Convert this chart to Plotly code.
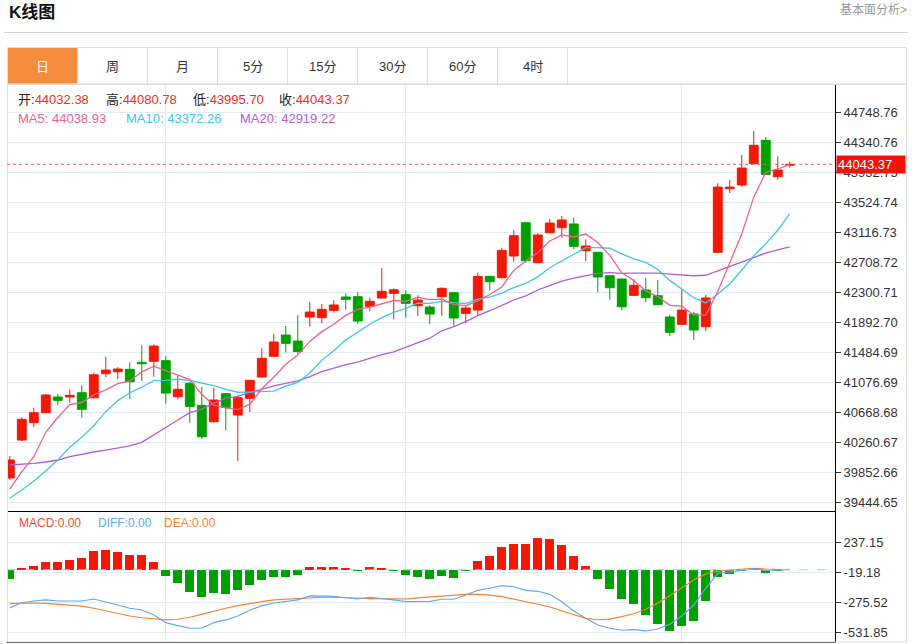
import plotly.graph_objects as go

# ---------------- data ----------------
opens = [39772, 40289, 40525, 40661, 40875, 40875, 40933, 40865, 41192, 41219,
         41252, 41347, 41361, 41369, 40879, 41061, 40762, 40538, 40920, 40630,
         40857, 41147, 41429, 41719, 41637, 41964, 41955, 42055, 42237, 42241,
         42110, 42223, 42287, 42268, 42118, 42100, 42241, 42295, 42015, 42059,
         42518, 42499, 42795, 43248, 42704, 43112, 43180, 43231, 42867, 42845,
         42527, 42482, 42260, 42332, 42254, 41964, 41865, 42005, 41832, 42845,
         43711, 43762, 44052, 44370, 43875, 44032.38]
highs = [40072, 40598, 40729, 40916, 40916, 40980, 41034, 41206, 41424, 41283,
         41347, 41583, 41592, 41433, 41165, 41083, 41011, 41001, 40930, 40898,
         41110, 41538, 41737, 41842, 41989, 42168, 42141, 42192, 42287, 42301,
         42227, 42631, 42355, 42328, 42260, 42123, 42369, 42300, 42118, 42567,
         42525, 42908, 43145, 43255, 43108, 43299, 43340, 43316, 43022, 42850,
         42530, 42487, 42478, 42495, 42468, 41995, 42341, 42036, 42268, 43785,
         43830, 44170, 44497, 44415, 44153, 44080.78]
lows = [39745, 40276, 40462, 40657, 40762, 40797, 40593, 40852, 41147, 41116,
        40847, 41093, 41151, 40783, 40843, 40525, 40303, 40525, 40421, 40003,
        40670, 41140, 41420, 41478, 41464, 41832, 41878, 42023, 42064, 41869,
        42042, 42215, 41933, 41955, 41978, 41865, 41982, 41846, 41878, 41991,
        42322, 42490, 42717, 42709, 42700, 43105, 43044, 42886, 42727, 42301,
        42200, 42055, 42255, 42168, 42130, 41705, 41860, 41651, 41773, 42840,
        43653, 43739, 44048, 43905, 43834, 43995.70]
closes = [40017, 40571, 40661, 40902, 40830, 40898, 40707, 41178, 41242, 41256,
          41083, 41328, 41569, 40929, 40980, 40748, 40334, 40834, 40734, 40865,
          41102, 41402, 41624, 41606, 41494, 42032, 42069, 42128, 42205, 41910,
          42178, 42314, 42336, 42151, 42196, 42005, 42355, 41951, 42087, 42516,
          42445, 42872, 43071, 42731, 43081, 43244, 43285, 42927, 42931, 42509,
          42363, 42104, 42396, 42227, 42132, 41756, 42059, 41787, 42223, 43734,
          43734, 43993, 44302, 43907, 43966, 44043.37]
ma5 = [39620, 39858, 40062, 40395, 40596, 40772, 40800, 40903, 40971, 41056,
       41093, 41217, 41296, 41233, 41178, 41111, 40912, 40765, 40726, 40703,
       40774, 40987, 41145, 41320, 41446, 41632, 41765, 41866, 41986, 42069,
       42098, 42147, 42189, 42178, 42235, 42200, 42209, 42132, 42119, 42183,
       42271, 42374, 42598, 42727, 42840, 43000, 43082, 43054, 43094, 42979,
       42803, 42567, 42461, 42320, 42244, 42123, 42114, 41992, 41991, 42312,
       42707, 43094, 43597, 43934, 43980, 44038.93]
ma10 = [39500, 39608, 39731, 39867, 40017, 40190, 40326, 40484, 40675, 40826,
        40933, 41009, 41099, 41102, 41117, 41102, 41065, 41030, 40980, 40940,
        40942, 40950, 40955, 41023, 41074, 41203, 41376, 41506, 41653, 41757,
        41865, 41956, 42027, 42082, 42152, 42149, 42178, 42160, 42148, 42209,
        42236, 42291, 42365, 42423, 42511, 42635, 42728, 42826, 42910, 42910,
        42901, 42825, 42757, 42707, 42612, 42463, 42340, 42226, 42156, 42278,
        42415, 42604, 42795, 42963, 43146, 43372.26]
ma20 = [39949, 39958, 39972, 39990, 40017, 40062, 40099, 40126, 40153, 40180,
        40208, 40258, 40361, 40470, 40562, 40661, 40711, 40789, 40857, 40883,
        40938, 40979, 41027, 41062, 41096, 41152, 41220, 41268, 41316, 41349,
        41404, 41453, 41491, 41552, 41613, 41676, 41777, 41833, 41901, 41983,
        42050, 42124, 42196, 42252, 42332, 42392, 42453, 42493, 42529, 42559,
        42569, 42558, 42561, 42565, 42562, 42549, 42534, 42526, 42533, 42594,
        42658, 42714, 42776, 42835, 42879, 42919.22]
macd = [-75, 13, 36, 64, 64, 81, 98, 161, 167, 150,
        126, 124, 70, -56, -115, -186, -232, -195, -209, -175,
        -132, -90, -64, -64, -41, 24, 27, 24, 15, -10,
        21, 15, -7, -47, -62, -75, -53, -70, -7, 75,
        115, 192, 224, 218, 269, 267, 212, 118, 36, -81,
        -167, -249, -295, -389, -463, -520, -480, -434, -267, -58,
        -36, -7, 19, -24, -10, 0]
diff = [-326, -282, -267, -258, -267, -267, -267, -250, -273, -301,
        -329, -344, -387, -452, -478, -500, -500, -452, -429, -395,
        -346, -307, -284, -273, -258, -224, -224, -227, -239, -250,
        -235, -244, -258, -273, -273, -270, -252, -252, -216, -176,
        -158, -136, -145, -176, -184, -210, -273, -352, -415, -472,
        -500, -517, -512, -523, -506, -466, -395, -301, -158, -30,
        -19, -2, 9, -5, -2, 4]
dea = [-290, -284, -284, -287, -293, -301, -310, -329, -352, -372,
       -395, -410, -421, -429, -423, -406, -381, -352, -329, -307,
       -287, -273, -258, -252, -244, -235, -235, -235, -241, -247,
       -247, -247, -250, -250, -241, -233, -224, -213, -210, -210,
       -216, -230, -250, -273, -295, -318, -352, -387, -415, -427,
       -421, -401, -376, -338, -284, -222, -153, -88, -36, -13,
       -2, 6, 12, 6, 0, 0]
price_ticks = [44748.76, 44340.76, 43932.75, 43524.74, 43116.73, 42708.72, 42300.71,
               41892.70, 41484.69, 41076.69, 40668.68, 40260.67, 39852.66, 39444.65]
macd_ticks = [237.15, -19.18, -275.52, -531.85]
tabs = ["日", "周", "月", "5分", "15分", "30分", "60分", "4时"]
grid_x = [13, 33, 56]
last_price = 44043.37

# ---------------- styling ----------------
W, H = 912, 644
RED = "#f01a06"
GREEN = "#00a000"
C_MA5 = "#ec6291"
C_MA10 = "#3ec8e2"
C_MA20 = "#b35dd0"
C_DIFF = "#5ea9ef"
C_DEA = "#f9822a"
GRID = "#e3ebf2"
FONT = "Liberation Sans, Noto Sans CJK SC, sans-serif"


def px(x):
    return x / W


def py(y):
    return 1 - y / H


n = len(closes)
idx = list(range(n))
up = [c >= o for o, c in zip(opens, closes)]

fig = go.Figure()

# wicks
for flag, col in ((True, RED), (False, GREEN)):
    wx, wy = [], []
    for i in idx:
        if up[i] == flag:
            wx += [i, i, None]
            wy += [lows[i], highs[i], None]
    fig.add_trace(go.Scatter(x=wx, y=wy, mode="lines", line=dict(color=col, width=1),
                             hoverinfo="skip", xaxis="x", yaxis="y"))

# bodies
for flag, col in ((True, RED), (False, GREEN)):
    bx = [i for i in idx if up[i] == flag]
    base = [min(opens[i], closes[i]) for i in bx]
    hgt = [abs(closes[i] - opens[i]) for i in bx]
    fig.add_trace(go.Bar(x=bx, y=hgt, base=base, width=0.74,
                         marker=dict(color=col, line=dict(color=col, width=1)),
                         hoverinfo="skip", xaxis="x", yaxis="y"))

# moving averages
for vals, col in ((ma20, C_MA20), (ma10, C_MA10), (ma5, C_MA5)):
    fig.add_trace(go.Scatter(x=idx, y=vals, mode="lines", line=dict(color=col, width=1.3),
                             hoverinfo="skip", xaxis="x", yaxis="y"))

# MACD histogram
fig.add_trace(go.Bar(x=idx, y=macd, width=0.74,
                     marker=dict(color=[RED if v >= 0 else GREEN for v in macd], line=dict(width=0)),
                     hoverinfo="skip", xaxis="x2", yaxis="y2"))
fig.add_trace(go.Scatter(x=idx, y=dea, mode="lines", line=dict(color=C_DEA, width=1.2),
                         hoverinfo="skip", xaxis="x2", yaxis="y2"))
fig.add_trace(go.Scatter(x=idx, y=diff, mode="lines", line=dict(color=C_DIFF, width=1.2),
                         hoverinfo="skip", xaxis="x2", yaxis="y2"))

xr = [-0.233, 68.77]
xdom = [px(7), px(835)]

axis_font = dict(family=FONT, size=13, color="#333")

fig.update_layout(
    width=W, height=H, autosize=False,
    margin=dict(l=0, r=0, t=0, b=0),
    paper_bgcolor="white", plot_bgcolor="white",
    showlegend=False, barmode="overlay", bargap=0,
    font=dict(family=FONT),
    xaxis=dict(domain=xdom, range=xr, anchor="y", tickvals=grid_x, showticklabels=False,
               ticks="", showgrid=True, gridcolor=GRID, zeroline=False, showline=False,
               fixedrange=True),
    xaxis2=dict(domain=xdom, range=xr, anchor="y2", matches="x", tickvals=grid_x,
                showticklabels=False, ticks="", showgrid=True, gridcolor=GRID, zeroline=False,
                showline=True, mirror=True, linecolor="#000", linewidth=1, fixedrange=True),
    yaxis=dict(domain=[py(511.5), py(85)], range=[39315.8, 45123.8], anchor="x", side="right",
               tickvals=price_ticks, ticktext=["%.2f" % v for v in price_ticks],
               ticks="outside", ticklen=5, tickcolor="#333", tickfont=axis_font,
               showline=True, linecolor="#000", linewidth=1,
               showgrid=True, gridcolor=GRID, zeroline=False, fixedrange=True),
    yaxis2=dict(domain=[py(641.5), py(512.3)], range=[-613.0, 490.9], anchor="x2", side="right",
                tickvals=macd_ticks, ticktext=["%.2f" % v for v in macd_ticks],
                ticks="outside", ticklen=5, tickcolor="#333", tickfont=axis_font,
                showline=True, linecolor="#000", linewidth=1,
                showgrid=True, gridcolor=GRID, zeroline=False, fixedrange=True),
)

shapes = []
# title underline
shapes.append(dict(type="line", xref="paper", yref="paper", x0=px(4), x1=px(908),
                   y0=py(32.5), y1=py(32.5), line=dict(color="#d4d4d4", width=1)))
# tab bar
shapes.append(dict(type="rect", xref="paper", yref="paper", x0=px(7.5), x1=px(906.5),
                   y0=py(47.5), y1=py(84), line=dict(color="#dcdcdc", width=1)))
shapes.append(dict(type="rect", xref="paper", yref="paper", x0=px(8), x1=px(77),
                   y0=py(48), y1=py(83.5), fillcolor="#f58c3d", line=dict(width=0)))
for k in range(1, len(tabs) + 1):
    xs = 7.5 + 70 * k
    shapes.append(dict(type="line", xref="paper", yref="paper", x0=px(xs), x1=px(xs),
                       y0=py(47.5), y1=py(84), line=dict(color="#dcdcdc", width=1)))
# chart frame
shapes.append(dict(type="rect", xref="paper", yref="paper", x0=px(7.5), x1=px(906.5),
                   y0=py(84.5), y1=py(642), line=dict(color="#dcdcdc", width=1)))
# last price dotted line
shapes.append(dict(type="line", xref="paper", yref="y", x0=xdom[0], x1=xdom[1],
                   y0=last_price, y1=last_price, line=dict(color="#f25a5a", width=1, dash="dot")))
# macd zero line
shapes.append(dict(type="line", xref="paper", yref="y2", x0=xdom[0], x1=xdom[1],
                   y0=0, y1=0, line=dict(color="#9fd0ee", width=1, dash="dash")))
fig.update_layout(shapes=shapes)

ann = []
ann.append(dict(text="<b>K线图</b>", xref="paper", yref="paper", x=px(7), y=py(12),
                xanchor="left", yanchor="middle", showarrow=False,
                font=dict(family=FONT, size=17, color="#111")))
ann.append(dict(text="基本面分析>", xref="paper", yref="paper", x=px(909), y=py(10),
                xanchor="right", yanchor="middle", showarrow=False,
                font=dict(family=FONT, size=12, color="#999")))
for k, t in enumerate(tabs):
    ann.append(dict(text=t, xref="paper", yref="paper", x=px(42.5 + 70 * k), y=py(66),
                    xanchor="center", yanchor="middle", showarrow=False,
                    font=dict(family=FONT, size=13, color="#fff" if k == 0 else "#333")))

VAL = "#f02d1e"
row1 = [("开", opens[-1], 16), ("高", highs[-1], 103.5), ("低", lows[-1], 190.5), ("收", closes[-1], 277)]
for lab, v, x in row1:
    ann.append(dict(text="%s:<span style='color:%s'>%.2f</span>" % (lab, VAL, v),
                    xref="paper", yref="paper", x=px(x), y=py(100), xanchor="left",
                    yanchor="middle", showarrow=False,
                    font=dict(family=FONT, size=13, color="#222")))
row2 = [("MA5", ma5[-1], 16, C_MA5), ("MA10", ma10[-1], 124, C_MA10), ("MA20", ma20[-1], 238, C_MA20)]
for lab, v, x, col in row2:
    ann.append(dict(text="%s: %.2f" % (lab, v), xref="paper", yref="paper", x=px(x), y=py(118.3),
                    xanchor="left", yanchor="middle", showarrow=False,
                    font=dict(family=FONT, size=13, color=col)))
row3 = [("MACD", 0.0, 16.7, "#f04a3a"), ("DIFF", 0.0, 95.7, C_DIFF), ("DEA", 0.0, 161.7, C_DEA)]
for lab, v, x, col in row3:
    ann.append(dict(text="%s:%.2f" % (lab, v), xref="paper", yref="paper", x=px(x), y=py(523.3),
                    xanchor="left", yanchor="middle", showarrow=False,
                    font=dict(family=FONT, size=12, color=col)))
# last price tag
ann.append(dict(text="%.2f" % last_price, xref="paper", yref="y", x=px(836), y=last_price,
                xanchor="left", yanchor="middle", showarrow=False, bgcolor="#f2140a",
                width=66, height=15, borderpad=1, align="left",
                font=dict(family=FONT, size=13, color="#fff")))
fig.update_layout(annotations=ann)

fig.write_html("out.html", config={"displayModeBar": False, "staticPlot": True})
